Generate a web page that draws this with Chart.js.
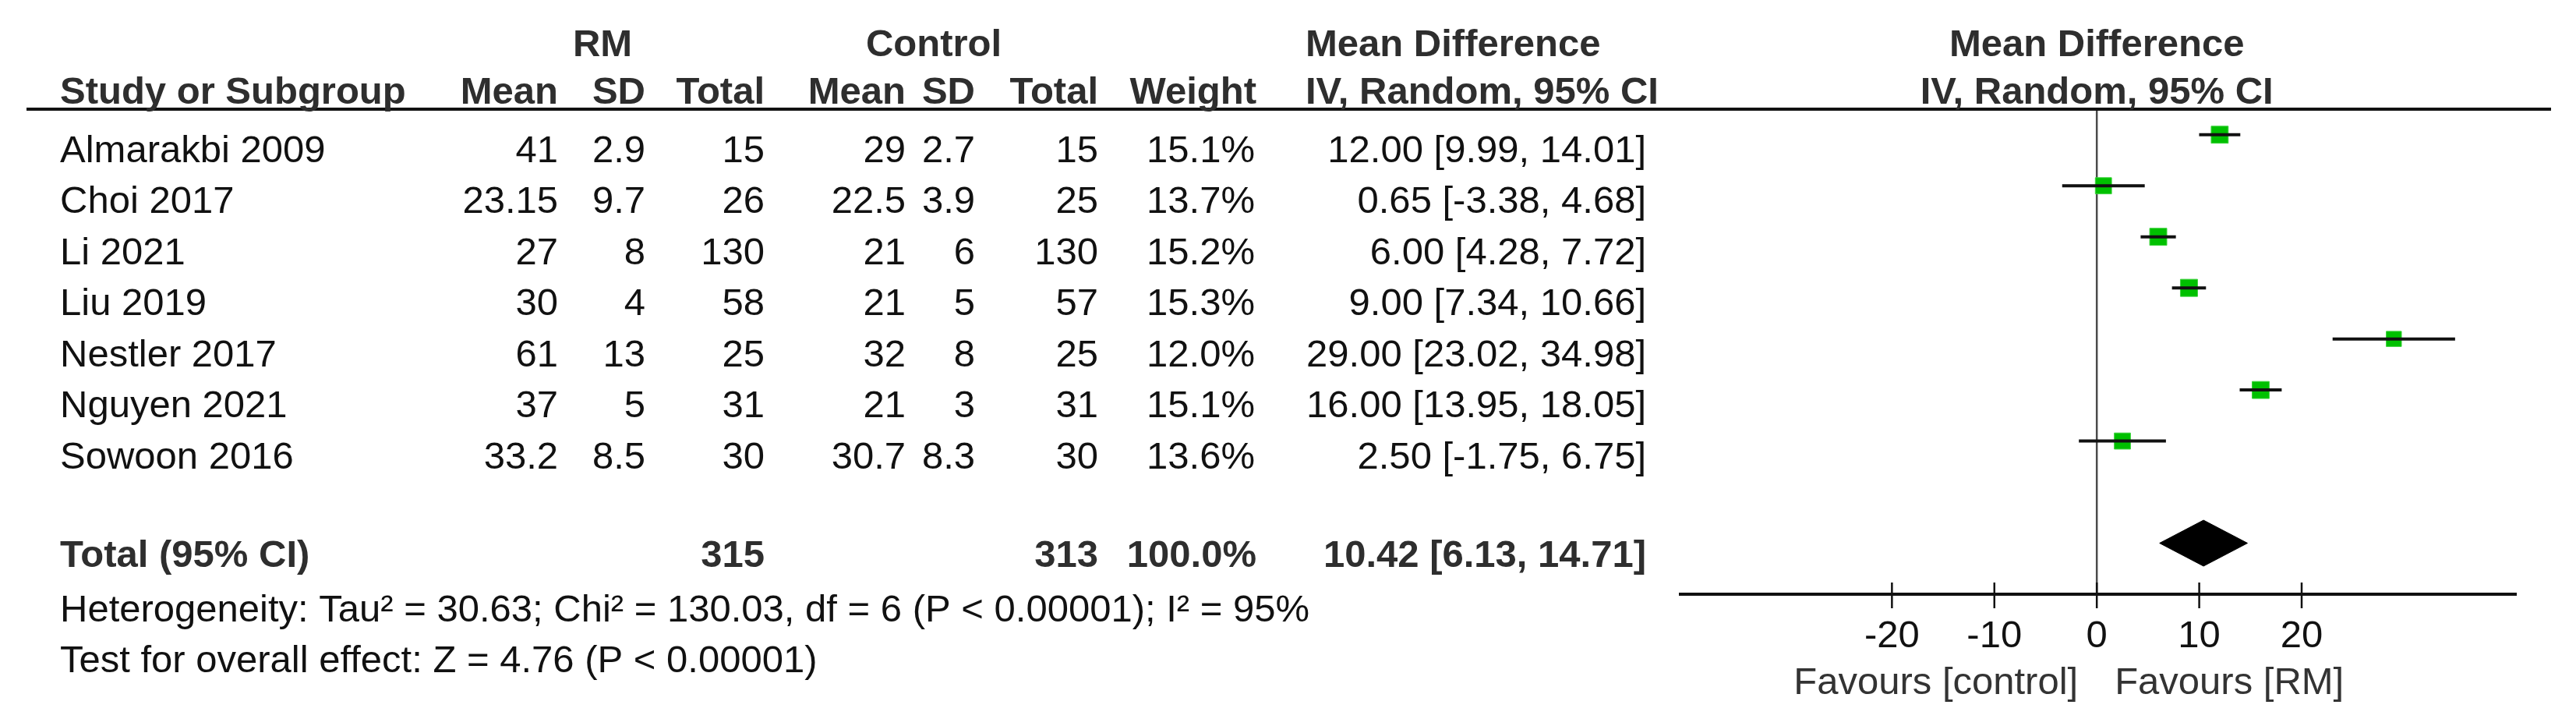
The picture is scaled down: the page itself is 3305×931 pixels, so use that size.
<!doctype html>
<html>
<head>
    <meta charset="UTF-8"/>
    <title>Forest plot - RM vs Control</title>
    <style type="text/css">
        body {
            margin: 0;
            padding: 0;
            background-color: #fff;
        }
        .chartBox {
            width: 3305px;
            height: 931px;
        }
    </style>
</head>
<body>
    <div class="chartBox">
        <canvas id="myChart" width="3305" height="931"></canvas>
    </div>

    <script src="https://cdn.jsdelivr.net/npm/chart.js"></script>

    <script>
        // Study data
        const studies = ['Almarakbi 2009', 'Choi 2017', 'Li 2021', 'Liu 2019', 'Nestler 2017', 'Nguyen 2021', 'Sowoon 2016'];
        const rmMean = [41, 23.15, 27, 30, 61, 37, 33.2];
        const rmSD = [2.9, 9.7, 8, 4, 13, 5, 8.5];
        const rmTotal = [15, 26, 130, 58, 25, 31, 30];
        const ctrlMean = [29, 22.5, 21, 21, 32, 21, 30.7];
        const ctrlSD = [2.7, 3.9, 6, 5, 8, 3, 8.3];
        const ctrlTotal = [15, 25, 130, 57, 25, 31, 30];
        const weights = [15.1, 13.7, 15.2, 15.3, 12.0, 15.1, 13.6];
        const meanDiff = [12.00, 0.65, 6.00, 9.00, 29.00, 16.00, 2.50];
        const ciLow = [9.99, -3.38, 4.28, 7.34, 23.02, 13.95, -1.75];
        const ciHigh = [14.01, 4.68, 7.72, 10.66, 34.98, 18.05, 6.75];

        // Pooled result
        const totalRM = 315;
        const totalCtrl = 313;
        const totalWeight = 100.0;
        const pooledMD = 10.42;
        const pooledLow = 6.13;
        const pooledHigh = 14.71;
        const heterogeneityText = 'Heterogeneity: Tau\u00b2 = 30.63; Chi\u00b2 = 130.03, df = 6 (P < 0.00001); I\u00b2 = 95%';
        const overallText = 'Test for overall effect: Z = 4.76 (P < 0.00001)';

        // Axis
        const xTicks = [-20, -10, 0, 10, 20];
        const favoursLeft = 'Favours [control]';
        const favoursRight = 'Favours [RM]';

        const totalRow = 8;
        const FONT = "'Liberation Sans', Arial, sans-serif";

        function fmtCI(md, lo, hi) {
            return md.toFixed(2) + ' [' + lo.toFixed(2) + ', ' + hi.toFixed(2) + ']';
        }

        // CI whiskers, one broken line
        const ciData = [];
        studies.forEach((s, i) => {
            ciData.push({x: ciLow[i], y: i});
            ciData.push({x: ciHigh[i], y: i});
            ciData.push({x: null, y: null});
        });

        const squareData = studies.map((s, i) => ({x: meanDiff[i], y: i}));
        const squareRadius = weights.map(w => 22 * Math.sqrt(w / 15.3) / 1.414);

        const diamondData = [
            {x: pooledLow, y: totalRow},
            {x: pooledMD, y: totalRow - 0.45},
            {x: pooledHigh, y: totalRow},
            {x: pooledMD, y: totalRow + 0.45},
            {x: pooledLow, y: totalRow}
        ];

        function txt(ctx, s, x, y, align, bold, color) {
            ctx.font = (bold ? 'bold ' : '') + '49px ' + FONT;
            ctx.textAlign = align;
            ctx.textBaseline = 'alphabetic';
            ctx.fillStyle = color || (bold ? '#2e2e2e' : '#111');
            ctx.fillText(s, x, y);
        }

        const forestPlugin = {
            id: 'forestPlugin',
            beforeDatasetsDraw(chart) {
                const ctx = chart.ctx;
                const xs = chart.scales.x;
                const area = chart.chartArea;
                const x0 = xs.getPixelForValue(0);
                ctx.save();
                ctx.strokeStyle = '#4a4a4a';
                ctx.lineWidth = 2.5;
                ctx.beginPath();
                ctx.moveTo(x0, area.top);
                ctx.lineTo(x0, area.bottom);
                ctx.stroke();
                ctx.restore();
            },
            afterDraw(chart) {
                const ctx = chart.ctx;
                const xs = chart.scales.x;
                const ys = chart.scales.y;
                const area = chart.chartArea;
                const x0 = xs.getPixelForValue(0);
                ctx.save();

                // header line
                ctx.strokeStyle = '#111';
                ctx.lineWidth = 4;
                ctx.beginPath();
                ctx.moveTo(34, area.top);
                ctx.lineTo(3273, area.top);
                ctx.stroke();

                // headers
                txt(ctx, 'RM', 773, 72, 'center', true);
                txt(ctx, 'Control', 1198, 72, 'center', true);
                txt(ctx, 'Mean Difference', 1675, 72, 'left', true);
                txt(ctx, 'Mean Difference', x0, 72, 'center', true);
                txt(ctx, 'Study or Subgroup', 77, 133, 'left', true);
                txt(ctx, 'Mean', 716, 133, 'right', true);
                txt(ctx, 'SD', 828, 133, 'right', true);
                txt(ctx, 'Total', 981, 133, 'right', true);
                txt(ctx, 'Mean', 1162, 133, 'right', true);
                txt(ctx, 'SD', 1251, 133, 'right', true);
                txt(ctx, 'Total', 1409, 133, 'right', true);
                txt(ctx, 'Weight', 1612, 133, 'right', true);
                txt(ctx, 'IV, Random, 95% CI', 1675, 133, 'left', true);
                txt(ctx, 'IV, Random, 95% CI', x0, 133, 'center', true);

                // study rows
                studies.forEach((s, i) => {
                    const by = ys.getPixelForValue(i) + 35;
                    txt(ctx, s, 77, by, 'left');
                    txt(ctx, String(rmMean[i]), 716, by, 'right');
                    txt(ctx, String(rmSD[i]), 828, by, 'right');
                    txt(ctx, String(rmTotal[i]), 981, by, 'right');
                    txt(ctx, String(ctrlMean[i]), 1162, by, 'right');
                    txt(ctx, String(ctrlSD[i]), 1251, by, 'right');
                    txt(ctx, String(ctrlTotal[i]), 1409, by, 'right');
                    txt(ctx, weights[i].toFixed(1) + '%', 1610, by, 'right');
                    txt(ctx, fmtCI(meanDiff[i], ciLow[i], ciHigh[i]), 2112, by, 'right');
                });

                // total row
                const ty = ys.getPixelForValue(totalRow) + 30;
                txt(ctx, 'Total (95% CI)', 77, ty, 'left', true);
                txt(ctx, String(totalRM), 981, ty, 'right', true);
                txt(ctx, String(totalCtrl), 1409, ty, 'right', true);
                txt(ctx, totalWeight.toFixed(1) + '%', 1612, ty, 'right', true);
                txt(ctx, fmtCI(pooledMD, pooledLow, pooledHigh), 2112, ty, 'right', true);

                txt(ctx, heterogeneityText, 77, 797, 'left');
                txt(ctx, overallText, 77, 862, 'left');

                // x axis
                ctx.strokeStyle = '#111';
                ctx.lineWidth = 4;
                ctx.beginPath();
                ctx.moveTo(area.left, area.bottom);
                ctx.lineTo(area.right, area.bottom);
                ctx.stroke();
                ctx.lineWidth = 2.5;
                xTicks.forEach(t => {
                    const px = xs.getPixelForValue(t);
                    ctx.beginPath();
                    ctx.moveTo(px, area.bottom - 15);
                    ctx.lineTo(px, area.bottom + 18);
                    ctx.stroke();
                    txt(ctx, String(t), px, area.bottom + 68, 'center', false, '#111');
                });
                txt(ctx, favoursLeft, x0 - 24, area.bottom + 128, 'right', false, '#333');
                txt(ctx, favoursRight, x0 + 23, area.bottom + 128, 'left', false, '#333');

                ctx.restore();
            }
        };

        const config = {
            type: 'scatter',
            data: {
                datasets: [
                    {
                        label: 'CI',
                        data: ciData,
                        showLine: true,
                        spanGaps: false,
                        borderColor: '#111',
                        borderWidth: 4,
                        pointRadius: 0
                    },
                    {
                        label: 'Mean difference',
                        data: squareData,
                        pointStyle: 'rect',
                        pointRadius: squareRadius,
                        backgroundColor: '#00c000',
                        borderColor: '#3fd33f',
                        borderWidth: 1
                    },
                    {
                        label: 'Pooled',
                        data: diamondData,
                        showLine: true,
                        fill: 'shape',
                        backgroundColor: '#000',
                        borderColor: '#000',
                        borderWidth: 1,
                        pointRadius: 0
                    }
                ]
            },
            options: {
                responsive: false,
                animation: false,
                devicePixelRatio: 1,
                layout: {
                    padding: {left: 2154, right: 76, top: 140, bottom: 169}
                },
                plugins: {
                    legend: {display: false},
                    tooltip: {enabled: false}
                },
                scales: {
                    x: {type: 'linear', min: -40.8, max: 41, display: false},
                    y: {type: 'linear', min: -0.5, max: 9, reverse: true, display: false}
                }
            },
            plugins: [forestPlugin]
        };

        const myChart = new Chart(document.getElementById('myChart'), config);
    </script>
</body>
</html>
